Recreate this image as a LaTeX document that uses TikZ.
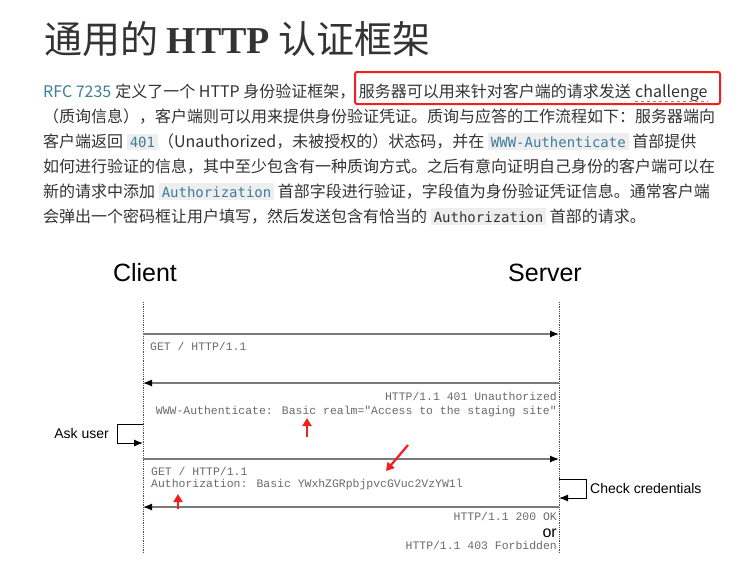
\documentclass[tikz,border=0pt]{standalone}
\usepackage{fontspec}
\usepackage{xcolor}
\setmainfont{Noto Sans CJK SC}
\newfontfamily\headlatin{Liberation Serif}
\newfontfamily\diagfont{Liberation Sans}
\newfontfamily\msgfont{Liberation Mono}
\newfontfamily\codefont{DejaVu Sans Mono}
\usetikzlibrary{arrows.meta,positioning,calc}
\definecolor{bodytext}{HTML}{333333}
\definecolor{linkblue}{HTML}{3D7E9A}
\definecolor{codegray}{HTML}{EEEEEE}
\definecolor{markred}{HTML}{F02020}
\definecolor{msggray}{HTML}{6A6A6A}
\definecolor{linegray}{HTML}{7A7A7A}
\newcommand{\codespan}[2][linkblue]{{\setlength{\fboxsep}{3pt}\colorbox{codegray}{\codefont\fontsize{14}{14}\selectfont\textcolor{#1}{#2}}}}

\begin{document}
\begin{tikzpicture}[
  x=1pt,y=-1pt,
  bodyline/.style={anchor=base west,inner sep=0pt,text=bodytext,font=\fontsize{16}{16}\selectfont},
  actor/.style={anchor=base,inner sep=0pt,font=\diagfont\fontsize{25}{25}\selectfont},
  msgtext/.style={inner sep=0pt,text=msggray,font=\msgfont\fontsize{11.45}{11.45}\selectfont},
  sidelabel/.style={inner sep=0pt,font=\diagfont\fontsize{14}{14}\selectfont},
  lifeline/.style={draw=black!70,densely dotted,thick},
  msg/.style={draw=linegray,line width=1.2pt,-{Latex[length=9pt,width=7pt,color=black]}},
  loopline/.style={draw=black,line width=1pt,-{Latex[length=9pt,width=7pt]}},
  markarrow/.style={draw=markred,line width=2.2pt,-{Triangle[length=8pt,width=9pt]}},
  redbox/.style={draw=markred,line width=2pt,rounded corners=2pt}
]
\useasboundingbox[fill=white] (0,0) rectangle (754,578);

\node[anchor=base west,inner sep=0pt,text=bodytext] (title) at (44,53)
  {\fontsize{38}{38}\selectfont 通用的 {\headlatin\bfseries HTTP} 认证框架};

\node[bodyline,text=linkblue] (rfc) at (43,97) {RFC 7235};
\node[bodyline] (line1) at (rfc.base east) {\ 定义了一个 HTTP 身份验证框架，};
\node[bodyline] (line1b) at ($(line1.base east)+(3,0)$) {服务器可以用来针对客户端的请求发送};
\node[bodyline] (challenge) at ($(line1b.base east)+(4,0)$) {challenge};
\draw[draw=black!45,dashed] ($(challenge.base west)+(0,4)$) -- ($(challenge.base east)+(0,4)$);
\draw[redbox] (355,72) rectangle (720,104);

\node[bodyline] (line2) at (43,122) {（质询信息），客户端则可以用来提供身份验证凭证。质询与应答的工作流程如下：服务器端向};
\node[bodyline] (line3) at (43,147) {客户端返回 \codespan{401}（Unauthorized，未被授权的）状态码，并在 \codespan{WWW-Authenticate} 首部提供};
\node[bodyline] (line4) at (43,172) {如何进行验证的信息，其中至少包含有一种质询方式。之后有意向证明自己身份的客户端可以在};
\node[bodyline] (line5) at (43,197) {新的请求中添加 \codespan{Authorization} 首部字段进行验证，字段值为身份验证凭证信息。通常客户端};
\node[bodyline] (line6) at (43,222) {会弹出一个密码框让用户填写，然后发送包含有恰当的 \codespan[bodytext]{Authorization} 首部的请求。};

\node[actor] (client) at (145,281) {Client};
\node[actor] (server) at (545,281) {Server};

\coordinate (ctop) at (143,302);
\coordinate (cbot) at (143,553);
\coordinate (stop) at (559,302);
\coordinate (sbot) at (559,553);
\draw[lifeline] (ctop) -- (cbot);
\draw[lifeline] (stop) -- (sbot);

\foreach \n/\y in {1/334,2/383,3/459,4/507}{
  \coordinate (c\n) at (143,\y);
  \coordinate (s\n) at (559,\y);
}
\draw[msg] (c1) -- (s1);
\draw[msg] (s2) -- (c2);
\draw[msg] (c3) -- (s3);
\draw[msg] (s4) -- (c4);

\node[msgtext,anchor=base west] (get1) at (150,350) {GET / HTTP/1.1};
\node[msgtext,anchor=base east] (unauth) at (557,400) {HTTP/1.1 401 Unauthorized};
\node[msgtext,anchor=base east] (wwwauth) at (557,414) {WWW-Authenticate: Basic realm="Access to the staging site"};
\node[msgtext,anchor=base west] (get2) at (151,475) {GET / HTTP/1.1};
\node[msgtext,anchor=base west] (authz) at (151,487) {Authorization: Basic YWxhZGRpbjpvcGVuc2VzYW1l};
\node[msgtext,anchor=base east] (ok) at (557,520) {HTTP/1.1 200 OK};
\node[anchor=base east,inner sep=0pt,font=\diagfont\fontsize{16}{16}\selectfont] (or) at (557,537) {or};
\node[msgtext,anchor=base east] (forbid) at (557,549) {HTTP/1.1 403 Forbidden};

\coordinate (askout) at (143,424);
\coordinate (askin) at (143,443);
\draw[loopline] (askout) -- ++(-26,0) |- (askin);
\node[sidelabel,anchor=east] (askuser) at (109,433) {Ask user};

\coordinate (chkout) at (559,479);
\coordinate (chkin) at (559,498);
\draw[loopline] (chkout) -- ++(27,0) |- (chkin);
\node[sidelabel,anchor=west] (check) at (590,488) {Check credentials};

\coordinate (mark1tail) at (307,437);
\coordinate (mark1head) at (307,418);
\coordinate (mark2tail) at (178,509);
\coordinate (mark2head) at (178,494);
\coordinate (mark3tail) at (408,445);
\coordinate (mark3head) at (386,471);
\draw[markarrow] (mark1tail) -- (mark1head);
\draw[markarrow] (mark2tail) -- (mark2head);
\draw[markarrow] (mark3tail) -- (mark3head);
\end{tikzpicture}
\end{document}
